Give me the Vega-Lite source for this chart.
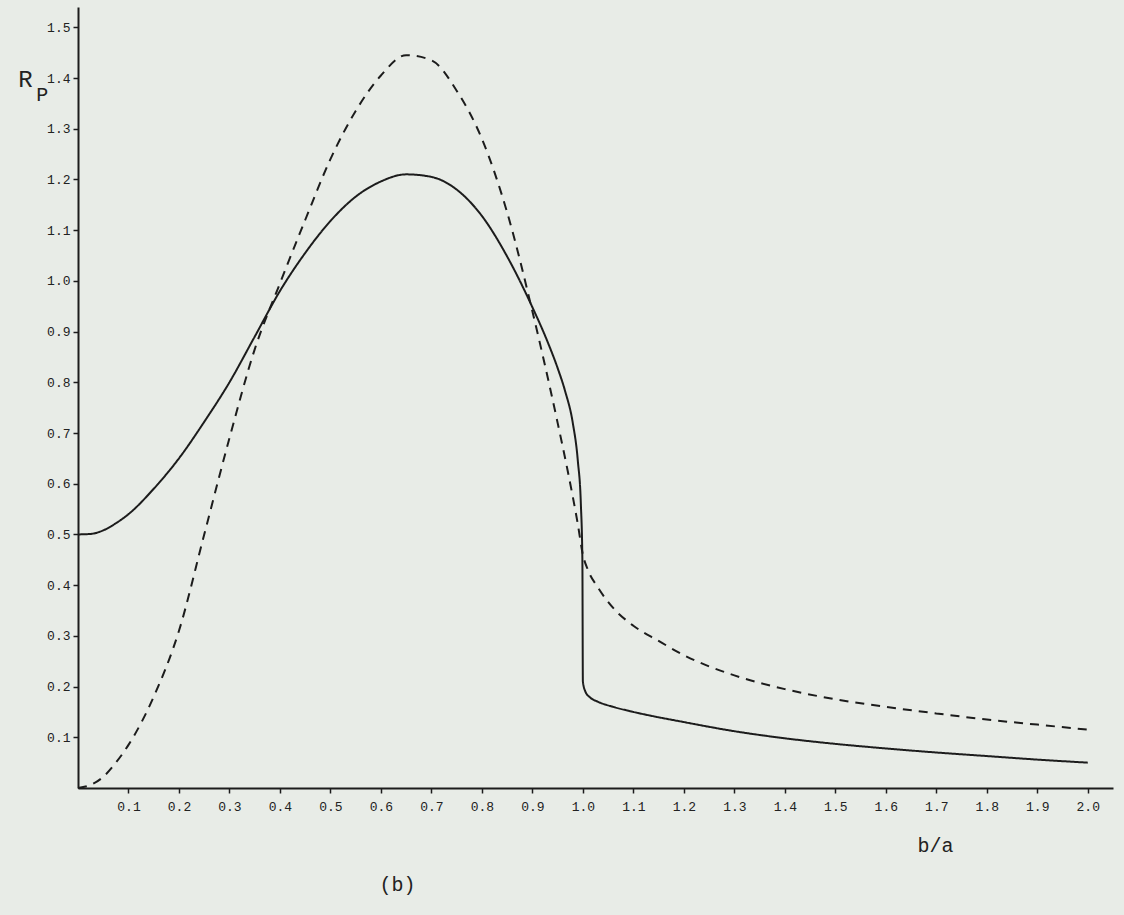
{
  "$schema": "https://vega.github.io/schema/vega-lite/v6.json",
  "width": 1035,
  "height": 781,
  "autosize": "none",
  "padding": {"left": 78, "top": 7, "right": 11, "bottom": 127},
  "background": "#e8ece7",
  "config": {"view": {"stroke": null}, "font": "Liberation Mono"},
  "datasets": {
    "curves": [
      {"series": "solid", "i": 1, "ba": 0, "rp": 0.5},
      {"series": "solid", "i": 2, "ba": 0.025, "rp": 0.501},
      {"series": "solid", "i": 3, "ba": 0.05, "rp": 0.508},
      {"series": "solid", "i": 4, "ba": 0.075, "rp": 0.522},
      {"series": "solid", "i": 5, "ba": 0.1, "rp": 0.54},
      {"series": "solid", "i": 6, "ba": 0.15, "rp": 0.59},
      {"series": "solid", "i": 7, "ba": 0.2, "rp": 0.65},
      {"series": "solid", "i": 8, "ba": 0.25, "rp": 0.722},
      {"series": "solid", "i": 9, "ba": 0.3, "rp": 0.8},
      {"series": "solid", "i": 10, "ba": 0.35, "rp": 0.89},
      {"series": "solid", "i": 11, "ba": 0.4, "rp": 0.98},
      {"series": "solid", "i": 12, "ba": 0.45, "rp": 1.055},
      {"series": "solid", "i": 13, "ba": 0.5, "rp": 1.118},
      {"series": "solid", "i": 14, "ba": 0.55, "rp": 1.166},
      {"series": "solid", "i": 15, "ba": 0.6, "rp": 1.196},
      {"series": "solid", "i": 16, "ba": 0.65, "rp": 1.21},
      {"series": "solid", "i": 17, "ba": 0.7, "rp": 1.205},
      {"series": "solid", "i": 18, "ba": 0.75, "rp": 1.18},
      {"series": "solid", "i": 19, "ba": 0.8, "rp": 1.128},
      {"series": "solid", "i": 20, "ba": 0.85, "rp": 1.048},
      {"series": "solid", "i": 21, "ba": 0.9, "rp": 0.948},
      {"series": "solid", "i": 22, "ba": 0.93, "rp": 0.88},
      {"series": "solid", "i": 23, "ba": 0.95, "rp": 0.828},
      {"series": "solid", "i": 24, "ba": 0.965, "rp": 0.782},
      {"series": "solid", "i": 25, "ba": 0.98, "rp": 0.72},
      {"series": "solid", "i": 26, "ba": 0.99, "rp": 0.645},
      {"series": "solid", "i": 27, "ba": 0.996, "rp": 0.56},
      {"series": "solid", "i": 28, "ba": 0.999, "rp": 0.45},
      {"series": "solid", "i": 29, "ba": 1.0, "rp": 0.21},
      {"series": "solid", "i": 30, "ba": 1.005, "rp": 0.19},
      {"series": "solid", "i": 31, "ba": 1.015, "rp": 0.178},
      {"series": "solid", "i": 32, "ba": 1.03, "rp": 0.17},
      {"series": "solid", "i": 33, "ba": 1.06, "rp": 0.16},
      {"series": "solid", "i": 34, "ba": 1.1, "rp": 0.15},
      {"series": "solid", "i": 35, "ba": 1.2, "rp": 0.13},
      {"series": "solid", "i": 36, "ba": 1.3, "rp": 0.112},
      {"series": "solid", "i": 37, "ba": 1.4, "rp": 0.098},
      {"series": "solid", "i": 38, "ba": 1.5, "rp": 0.087},
      {"series": "solid", "i": 39, "ba": 1.6, "rp": 0.078},
      {"series": "solid", "i": 40, "ba": 1.7, "rp": 0.07},
      {"series": "solid", "i": 41, "ba": 1.8, "rp": 0.063},
      {"series": "solid", "i": 42, "ba": 1.9, "rp": 0.056},
      {"series": "solid", "i": 43, "ba": 2.0, "rp": 0.05},
      {"series": "dashed", "i": 1, "ba": 0, "rp": 0},
      {"series": "dashed", "i": 2, "ba": 0.025, "rp": 0.006},
      {"series": "dashed", "i": 3, "ba": 0.05, "rp": 0.022},
      {"series": "dashed", "i": 4, "ba": 0.075, "rp": 0.05},
      {"series": "dashed", "i": 5, "ba": 0.1, "rp": 0.085},
      {"series": "dashed", "i": 6, "ba": 0.15, "rp": 0.18},
      {"series": "dashed", "i": 7, "ba": 0.2, "rp": 0.31},
      {"series": "dashed", "i": 8, "ba": 0.25, "rp": 0.5},
      {"series": "dashed", "i": 9, "ba": 0.3, "rp": 0.69},
      {"series": "dashed", "i": 10, "ba": 0.35, "rp": 0.865},
      {"series": "dashed", "i": 11, "ba": 0.4, "rp": 0.995},
      {"series": "dashed", "i": 12, "ba": 0.45, "rp": 1.12},
      {"series": "dashed", "i": 13, "ba": 0.5, "rp": 1.24},
      {"series": "dashed", "i": 14, "ba": 0.55, "rp": 1.335},
      {"series": "dashed", "i": 15, "ba": 0.6, "rp": 1.405},
      {"series": "dashed", "i": 16, "ba": 0.65, "rp": 1.445},
      {"series": "dashed", "i": 17, "ba": 0.7, "rp": 1.435},
      {"series": "dashed", "i": 18, "ba": 0.75, "rp": 1.375},
      {"series": "dashed", "i": 19, "ba": 0.8, "rp": 1.28},
      {"series": "dashed", "i": 20, "ba": 0.85, "rp": 1.135},
      {"series": "dashed", "i": 21, "ba": 0.9, "rp": 0.94},
      {"series": "dashed", "i": 22, "ba": 0.95, "rp": 0.72},
      {"series": "dashed", "i": 23, "ba": 0.97, "rp": 0.625},
      {"series": "dashed", "i": 24, "ba": 0.99, "rp": 0.52},
      {"series": "dashed", "i": 25, "ba": 1.0, "rp": 0.46},
      {"series": "dashed", "i": 26, "ba": 1.01, "rp": 0.43},
      {"series": "dashed", "i": 27, "ba": 1.03, "rp": 0.395},
      {"series": "dashed", "i": 28, "ba": 1.06, "rp": 0.355},
      {"series": "dashed", "i": 29, "ba": 1.1, "rp": 0.32},
      {"series": "dashed", "i": 30, "ba": 1.15, "rp": 0.29},
      {"series": "dashed", "i": 31, "ba": 1.2, "rp": 0.262},
      {"series": "dashed", "i": 32, "ba": 1.3, "rp": 0.222},
      {"series": "dashed", "i": 33, "ba": 1.4, "rp": 0.195},
      {"series": "dashed", "i": 34, "ba": 1.5, "rp": 0.175},
      {"series": "dashed", "i": 35, "ba": 1.6, "rp": 0.16},
      {"series": "dashed", "i": 36, "ba": 1.7, "rp": 0.147},
      {"series": "dashed", "i": 37, "ba": 1.8, "rp": 0.135},
      {"series": "dashed", "i": 38, "ba": 1.9, "rp": 0.125},
      {"series": "dashed", "i": 39, "ba": 2.0, "rp": 0.115}
    ],
    "notes": [
      {"label": "P", "ba": -0.071, "rp": 1.367, "size": 20},
      {"label": "(b)", "ba": 0.633, "rp": -0.191, "size": 20}
    ]
  },
  "layer": [
    {
      "data": {"name": "curves"},
      "mark": {"type": "line", "color": "#1c1c1c", "strokeWidth": 2, "interpolate": "monotone"},
      "encoding": {
        "x": {
          "field": "ba", "type": "quantitative",
          "scale": {"domain": [0, 2.05], "nice": false, "zero": false},
          "axis": {
            "values": [0.1,0.2,0.3,0.4,0.5,0.6,0.7,0.8,0.9,1.0,1.1,1.2,1.3,1.4,1.5,1.6,1.7,1.8,1.9,2.0],
            "format": ".1f", "grid": false,
            "domainColor": "#1c1c1c", "domainWidth": 2,
            "tickColor": "#1c1c1c", "tickSize": 5, "tickWidth": 1.5,
            "labelFont": "Liberation Mono", "labelFontSize": 13, "labelColor": "#222222", "labelPadding": 7,
            "title": "b/a", "titleFont": "Liberation Mono", "titleFontSize": 20, "titleFontWeight": "normal",
            "titleColor": "#222222", "titleX": 857, "titleY": 57, "titleAlign": "center", "titleBaseline": "middle"
          }
        },
        "y": {
          "field": "rp", "type": "quantitative",
          "scale": {"domain": [0, 1.54], "nice": false},
          "axis": {
            "values": [0.1,0.2,0.3,0.4,0.5,0.6,0.7,0.8,0.9,1.0,1.1,1.2,1.3,1.4,1.5],
            "format": ".1f", "grid": false,
            "domainColor": "#1c1c1c", "domainWidth": 2,
            "tickColor": "#1c1c1c", "tickSize": 5, "tickWidth": 1.5,
            "labelFont": "Liberation Mono", "labelFontSize": 13, "labelColor": "#222222", "labelPadding": 3,
            "title": "R", "titleFont": "Liberation Mono", "titleFontSize": 24, "titleFontWeight": "normal",
            "titleColor": "#222222", "titleAngle": 0, "titleX": -53, "titleY": 72, "titleAlign": "center", "titleBaseline": "middle"
          }
        },
        "strokeDash": {
          "field": "series", "type": "nominal",
          "scale": {"domain": ["solid", "dashed"], "range": [[1, 0], [9, 7]]},
          "legend": null
        },
        "order": {"field": "i", "type": "quantitative"}
      }
    },
    {
      "data": {"name": "notes"},
      "mark": {"type": "text", "font": "Liberation Mono", "color": "#222222", "align": "center", "baseline": "middle"},
      "encoding": {
        "x": {"field": "ba", "type": "quantitative"},
        "y": {"field": "rp", "type": "quantitative"},
        "text": {"field": "label"},
        "size": {"field": "size", "type": "quantitative", "scale": null}
      }
    }
  ]
}
